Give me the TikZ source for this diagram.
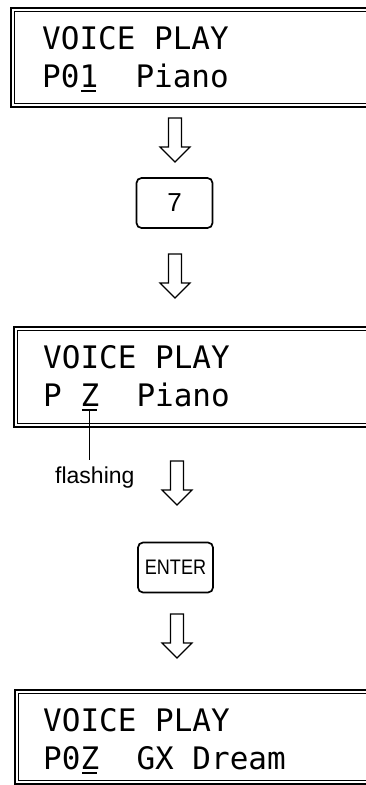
\documentclass[tikz,border=0pt]{standalone}
\usepackage{fontspec}
\usepackage{tikz}
\usetikzlibrary{calc}
\setmainfont{Liberation Sans}
\newfontfamily\lcdfont{DejaVu Sans Mono}
\newfontfamily\keyfont[FakeStretch=0.86]{Liberation Sans}

\begin{document}
\begin{tikzpicture}[x=1pt,y=-1pt,line join=miter,
  lcd/.style={font=\lcdfont\fontsize{31}{31}\selectfont,anchor=base west,inner sep=0pt},
  frameout/.style={line width=1.6pt},
  framein/.style={line width=0.9pt},
  uline/.style={line width=2pt},
  keybox/.style={draw,line width=1.7pt,rounded corners=5pt,minimum width=76pt,minimum height=50pt,inner sep=0pt},
  downarrow/.pic={\draw[line width=1.1pt] (-6.5,0) -- (-6.5,29) -- (-15,29) -- (0,44) -- (15,29) -- (6.5,29) -- (6.5,0) -- cycle;}]
\def\cw{18.66}
\useasboundingbox (0,0) rectangle (366,785);
% display frames, open on the right
\foreach \ty/\lx/\hh in {8/11/99,327/14/100,690/15/94}{
   \draw[frameout] (367,\ty) -- (\lx,\ty) -- (\lx,\ty+\hh) -- (367,\ty+\hh);
   \draw[framein] (367,\ty+3.5) -- (\lx+3.5,\ty+3.5) -- (\lx+3.5,\ty+\hh-3.5) -- (367,\ty+\hh-3.5);
}
% display texts
\node[lcd] (r11) at (42,49) {VOICE PLAY};
\node[lcd] (r12) at (42,87) {P01~~Piano};
\node[lcd] (r21) at (43,368) {VOICE PLAY};
\node[lcd] (r22) at (43,406) {P~Z~~Piano};
\node[lcd] (r31) at (43,731) {VOICE PLAY};
\node[lcd] (r32) at (43,769) {P0Z~~GX Dream};
% cursor
\foreach \r in {r12,r22,r32}{
   \draw[uline] ($(\r.base west)+(2*\cw+1.5,4)$) -- ++(\cw-3,0);
}
% keys
\node[keybox,font=\fontsize{26}{26}\selectfont] (k7) at (174.5,203) {7};
\node[keybox,minimum width=75pt,font=\keyfont\fontsize{21}{21}\selectfont] (kent) at (175.5,567.5) {ENTER};
% arrows
\pic (a1) at (175,118) {downarrow};
\pic (a2) at (175,254) {downarrow};
\pic (a3) at (177,461) {downarrow};
\pic (a4) at (177,614) {downarrow};
% flashing label
\node[font=\fontsize{23}{23}\selectfont,anchor=base west,inner sep=0pt] (flash) at (55,483) {flashing};
\coordinate (zmark) at ($(r22.base west)+(2.5*\cw,4)$);
\draw[line width=1pt,shorten >=6pt] (zmark) -- (zmark |- flash.north);
\end{tikzpicture}
\end{document}
